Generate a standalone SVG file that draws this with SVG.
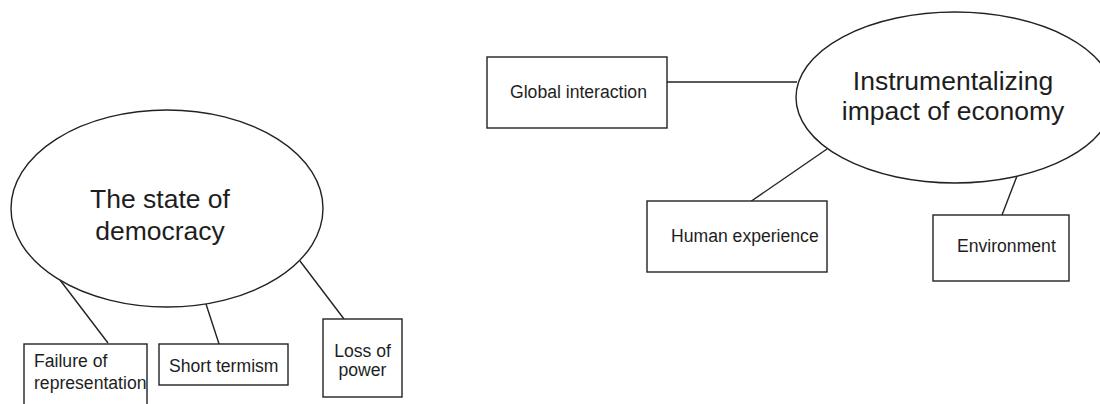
<svg xmlns="http://www.w3.org/2000/svg" width="1100" height="404" viewBox="0 0 1100 404">
<style>
.shape{fill:#fff;stroke:#222;stroke-width:1.4}
.conn{stroke:#222;stroke-width:1.4;fill:none}
.big{font-family:"Liberation Sans",Arial,sans-serif;font-size:26.5px;fill:#1e1e1e;text-anchor:middle}
.small{font-family:"Liberation Sans",Arial,sans-serif;font-size:17.6px;fill:#1e1e1e}
</style>
<rect width="1100" height="404" fill="#fff"/>
<g id="connectors">
<line class="conn" x1="60" y1="280" x2="108" y2="343"/>
<line class="conn" x1="206" y1="304" x2="221" y2="350"/>
<line class="conn" x1="300" y1="261" x2="344" y2="319"/>
<line class="conn" x1="667" y1="82" x2="797" y2="82"/>
<line class="conn" x1="827" y1="149" x2="750" y2="202"/>
<line class="conn" x1="1017" y1="176" x2="1002" y2="215"/>
</g>
<g id="democracy">
<ellipse class="shape" cx="167" cy="208.5" rx="156" ry="98.5"/>
<text class="big" x="160" y="208">The state of</text>
<text class="big" x="160" y="240">democracy</text>
</g>
<g id="failure">
<rect class="shape" x="24" y="344" width="123" height="70"/>
<text class="small" x="34" y="367">Failure of</text>
<text class="small" x="34" y="389">representation</text>
</g>
<g id="shortterm">
<rect class="shape" x="159" y="344" width="129" height="41"/>
<text class="small" x="169" y="372">Short termism</text>
</g>
<g id="losspower">
<rect class="shape" x="323" y="319" width="79" height="78"/>
<text class="small" x="362.5" y="357" text-anchor="middle">Loss of</text>
<text class="small" x="362.5" y="376" text-anchor="middle">power</text>
</g>
<g id="economy">
<ellipse class="shape" cx="955" cy="97.5" rx="159" ry="85.5"/>
<text class="big" x="953" y="90">Instrumentalizing</text>
<text class="big" x="953" y="120">impact of economy</text>
</g>
<g id="global">
<rect class="shape" x="487" y="57" width="180" height="71"/>
<text class="small" x="510" y="98">Global interaction</text>
</g>
<g id="human">
<rect class="shape" x="647" y="201" width="180" height="71"/>
<text class="small" x="671" y="242">Human experience</text>
</g>
<g id="environment">
<rect class="shape" x="933" y="215" width="136" height="66"/>
<text class="small" x="957" y="252">Environment</text>
</g>
</svg>
